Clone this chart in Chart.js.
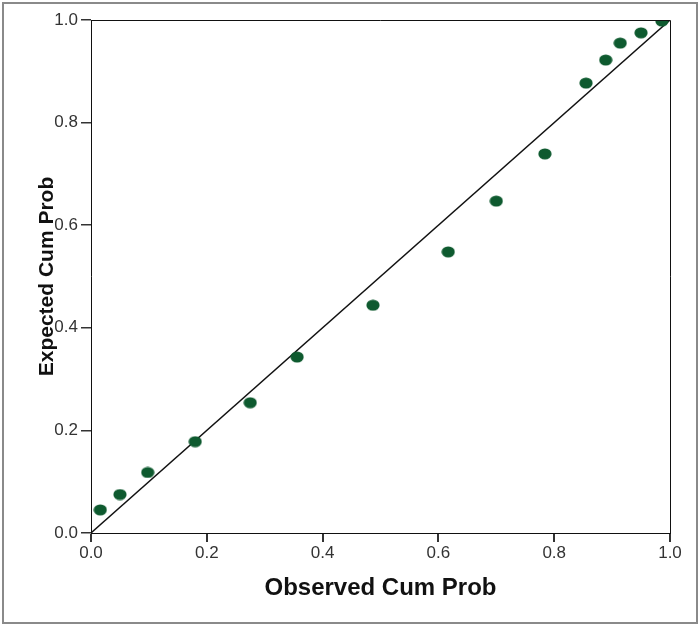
<!DOCTYPE html>
<html>
<head>
<meta charset="utf-8">
<script src="https://cdn.jsdelivr.net/npm/chart.js@4"></script>
<style>
  html, body { margin: 0; padding: 0; background: #fff; }
  #wrap { width: 700px; height: 626px; position: relative; }
</style>
</head>
<body>
<div id="wrap"><canvas id="c"></canvas></div>
<script>
// Data
const observedCumProb = [0.016, 0.050, 0.098, 0.180, 0.275, 0.356, 0.487, 0.617, 0.700, 0.784, 0.855, 0.889, 0.914, 0.950, 0.986];
const expectedCumProb = [0.045, 0.075, 0.118, 0.178, 0.254, 0.343, 0.444, 0.548, 0.647, 0.739, 0.877, 0.922, 0.955, 0.975, 0.998];
const referenceLineX = [0, 1];
const referenceLineY = [0, 1];
const tickValues = [0, 0.2, 0.4, 0.6, 0.8, 1.0];
const xTitle = 'Observed Cum Prob';
const yTitle = 'Expected Cum Prob';

const pointColor = '#0e5a2f';
// ellipse marker
const marker = document.createElement('canvas');
marker.width = 14; marker.height = 12;
(function () {
  const m = marker.getContext('2d');
  m.fillStyle = pointColor;
  m.beginPath();
  m.ellipse(7, 6, 6.6, 5.6, 0, 0, Math.PI * 2);
  m.fill();
})();

const framePlugin = {
  id: 'frame',
  afterDraw(chart) {
    const ctx = chart.ctx;
    const a = chart.chartArea;
    ctx.save();
    ctx.strokeStyle = '#111';
    ctx.lineWidth = 1;
    ctx.beginPath();
    ctx.moveTo(a.left, a.top + 0.5);
    ctx.lineTo(a.right + 0.5, a.top + 0.5);
    ctx.lineTo(a.right + 0.5, a.bottom);
    ctx.stroke();
    ctx.strokeStyle = '#8a8a8a';
    ctx.lineWidth = 2;
    ctx.strokeRect(3, 3, 694, 620);
    ctx.restore();
  }
};

const tickFont = { family: '"Liberation Sans", Arial, sans-serif', size: 17 };

new Chart(document.getElementById('c'), {
  type: 'scatter',
  data: {
    datasets: [
      {
        label: 'Reference',
        data: referenceLineX.map((x, i) => ({ x, y: referenceLineY[i] })),
        showLine: true,
        borderColor: '#111',
        borderWidth: 1.4,
        pointRadius: 0,
        fill: false,
        order: 2
      },
      {
        label: 'Cum Prob',
        data: observedCumProb.map((x, i) => ({ x, y: expectedCumProb[i] })),
        pointStyle: marker,
        pointRadius: 6,
        backgroundColor: pointColor,
        borderColor: pointColor,
        order: 1
      }
    ]
  },
  options: {
    responsive: true,
    maintainAspectRatio: false,
    animation: false,
    layout: { padding: { left: 0, top: 20, right: 30, bottom: 0 } },
    plugins: { legend: { display: false }, tooltip: { enabled: false } },
    scales: {
      x: {
        type: 'linear',
        min: 0, max: 1,
        afterBuildTicks(s) { s.ticks = tickValues.map(v => ({ value: v })); },
        afterFit(s) { s.height = 93; },
        ticks: {
          font: tickFont, color: '#333', padding: 1, maxRotation: 0,
          callback: v => Number(v).toFixed(1)
        },
        grid: { display: true, drawOnChartArea: false, drawTicks: true, tickLength: 9, color: '#333', lineWidth: 2 },
        border: { display: true, color: '#111', width: 1 },
        title: {
          display: true, text: xTitle, color: '#111',
          font: { family: '"Liberation Sans", Arial, sans-serif', size: 24, weight: 'bold' },
          padding: { top: 0, bottom: 23 }
        }
      },
      y: {
        type: 'linear',
        min: 0, max: 1,
        afterBuildTicks(s) { s.ticks = tickValues.map(v => ({ value: v })); },
        afterFit(s) { s.width = 91; },
        ticks: {
          font: tickFont, color: '#333', padding: 3,
          callback: v => Number(v).toFixed(1)
        },
        grid: { display: true, drawOnChartArea: false, drawTicks: true, tickLength: 10, color: '#333', lineWidth: 1.5 },
        border: { display: true, color: '#111', width: 1 },
        title: {
          display: true, text: yTitle, color: '#111',
          font: { family: '"Liberation Sans", Arial, sans-serif', size: 21, weight: 'bold' },
          padding: { top: 35, bottom: 0 }
        }
      }
    }
  },
  plugins: [framePlugin]
});
</script>
</body>
</html>
